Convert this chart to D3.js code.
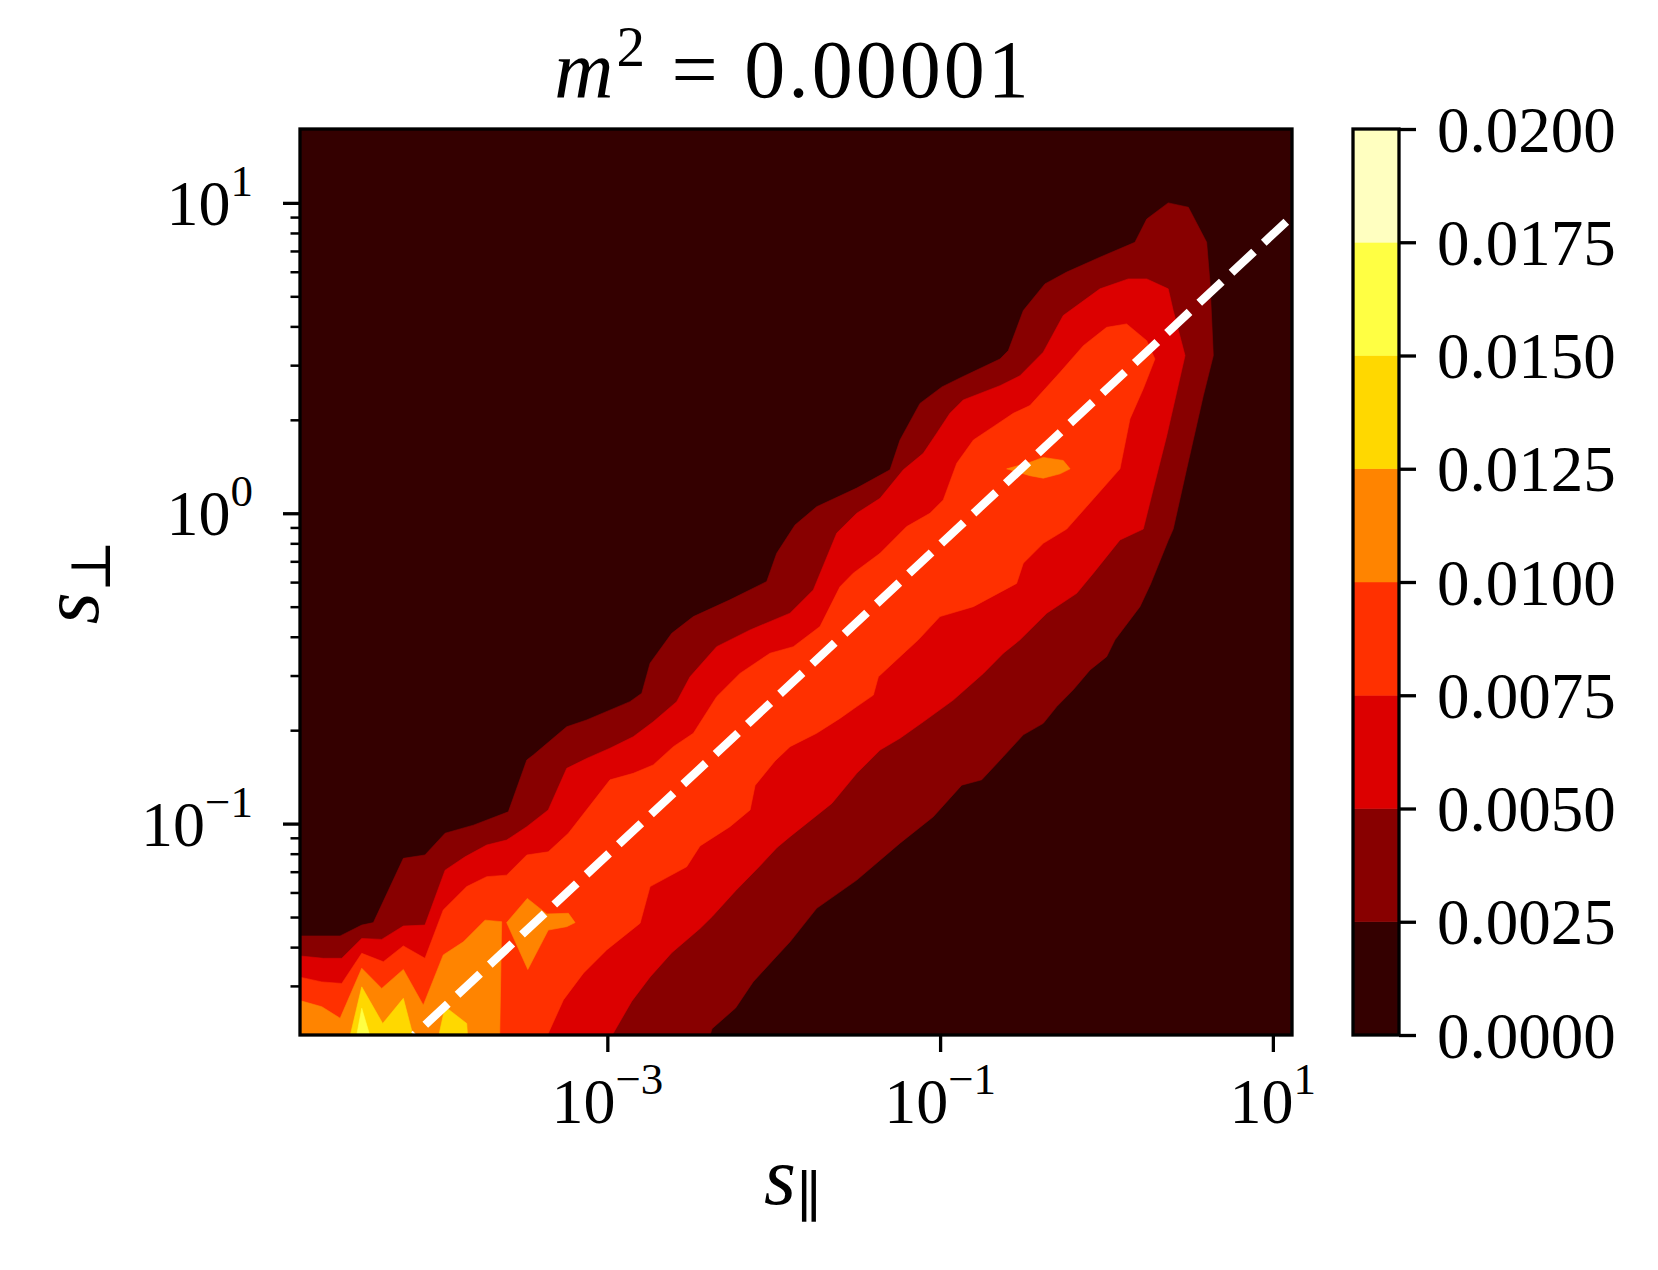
<!DOCTYPE html>
<html><head><meta charset="utf-8">
<script src="https://cdn.jsdelivr.net/npm/d3@7"></script>
<style>body{margin:0;background:#fff}</style>
</head><body>
<svg id="chart" width="1658" height="1270"></svg>
<script>
// ---------- data ----------
const levels = [0, 0.0025, 0.005, 0.0075, 0.01, 0.0125, 0.015, 0.0175, 0.02];
const levelColors = ["#340000","#880000","#dc0000","#ff3000","#ff8400","#ffd800","#ffff43","#ffffc0"];
const xDomain = [1.422e-5, 13.03];   // s_parallel range
const yDomain = [0.02084, 17.30];    // s_perp range
const xTicks = [1e-3, 1e-1, 1e1];
const xTickExp = ["\u22123", "\u22121", "1"];
const yTicks = [1e-1, 1e0, 1e1];
const yTickExp = ["\u22121", "0", "1"];
const yMinorTicks = [0.03,0.04,0.05,0.06,0.07,0.08,0.09,0.2,0.3,0.4,0.5,0.6,0.7,0.8,0.9,2,3,4,5,6,7,8,9];
const cbarTickLabels = ["0.0000","0.0025","0.0050","0.0075","0.0100","0.0125","0.0150","0.0175","0.0200"];

// filled contour regions, vertices as [log10 s_par, log10 s_perp]
const region0025 = [[-5.0,-1.362],[-4.606,-1.362],[-4.476,-1.327],[-4.406,-1.319],[-4.226,-1.112],[-4.096,-1.101],[-3.975,-1.031],[-3.805,-1.005],[-3.595,-0.962],[-3.484,-0.795],[-3.445,-0.779],[-3.244,-0.688],[-3.124,-0.666],[-2.864,-0.607],[-2.793,-0.580],[-2.743,-0.483],[-2.613,-0.387],[-2.483,-0.333],[-2.263,-0.279],[-2.042,-0.220],[-1.982,-0.129],[-1.872,-0.038],[-1.742,0.021],[-1.501,0.081],[-1.301,0.140],[-1.241,0.236],[-1.121,0.354],[-0.989,0.407],[-0.868,0.439],[-0.640,0.497],[-0.590,0.524],[-0.500,0.653],[-0.370,0.739],[-0.239,0.777],[-0.039,0.825],[0.171,0.873],[0.242,0.948],[0.371,1.000],[0.492,0.986],[0.602,0.873],[0.622,0.744],[0.642,0.508],[0.582,0.379],[0.482,0.143],[0.401,-0.051],[0.370,-0.089],[0.265,-0.228],[0.201,-0.301],[0.051,-0.408],[0.001,-0.462],[-0.099,-0.505],[-0.200,-0.569],[-0.299,-0.623],[-0.380,-0.677],[-0.500,-0.714],[-0.620,-0.784],[-0.750,-0.859],[-0.870,-0.876],[-1.041,-0.978],[-1.241,-1.063],[-1.501,-1.182],[-1.742,-1.273],[-1.902,-1.381],[-1.992,-1.433],[-2.124,-1.510],[-2.229,-1.594],[-2.371,-1.661],[-2.42,-1.75],[-5.0,-1.75]];
const region0050 = [[-5.0,-1.418],[-4.707,-1.434],[-4.596,-1.434],[-4.476,-1.370],[-4.356,-1.373],[-4.226,-1.330],[-4.096,-1.327],[-3.975,-1.150],[-3.855,-1.107],[-3.725,-1.069],[-3.605,-1.053],[-3.484,-1.010],[-3.355,-0.956],[-3.244,-0.822],[-3.124,-0.790],[-2.984,-0.757],[-2.844,-0.720],[-2.724,-0.672],[-2.583,-0.607],[-2.503,-0.527],[-2.343,-0.430],[-2.142,-0.376],[-1.902,-0.322],[-1.762,-0.247],[-1.621,-0.064],[-1.501,0.000],[-1.361,0.048],[-1.221,0.140],[-1.101,0.193],[-1.020,0.258],[-0.941,0.322],[-0.861,0.365],[-0.640,0.411],[-0.520,0.443],[-0.380,0.519],[-0.260,0.637],[-0.039,0.723],[0.131,0.755],[0.242,0.755],[0.371,0.723],[0.401,0.653],[0.472,0.508],[0.362,0.250],[0.281,0.078],[0.221,-0.051],[0.081,-0.086],[-0.079,-0.193],[-0.179,-0.258],[-0.359,-0.322],[-0.520,-0.408],[-0.620,-0.451],[-0.740,-0.516],[-0.921,-0.602],[-1.101,-0.672],[-1.241,-0.725],[-1.361,-0.763],[-1.501,-0.838],[-1.651,-0.935],[-1.902,-1.042],[-1.980,-1.077],[-2.088,-1.139],[-2.229,-1.216],[-2.371,-1.300],[-2.443,-1.338],[-2.613,-1.416],[-2.743,-1.494],[-2.853,-1.572],[-2.966,-1.677],[-3.0,-1.75],[-5.0,-1.75]];
const region0075 = [[-5.0,-1.477],[-4.716,-1.510],[-4.596,-1.515],[-4.476,-1.418],[-4.346,-1.445],[-4.226,-1.394],[-4.096,-1.434],[-3.986,-1.278],[-3.845,-1.203],[-3.725,-1.171],[-3.605,-1.166],[-3.484,-1.101],[-3.355,-1.091],[-3.234,-1.031],[-2.984,-0.859],[-2.844,-0.838],[-2.724,-0.811],[-2.603,-0.752],[-2.483,-0.709],[-2.343,-0.591],[-2.203,-0.516],[-2.022,-0.451],[-1.882,-0.430],[-1.722,-0.365],[-1.602,-0.237],[-1.522,-0.193],[-1.361,-0.129],[-1.201,-0.043],[-1.061,0.000],[-0.981,0.043],[-0.900,0.161],[-0.800,0.236],[-0.680,0.279],[-0.560,0.322],[-0.460,0.347],[-0.279,0.454],[-0.139,0.540],[0.001,0.599],[0.121,0.610],[0.242,0.556],[0.291,0.497],[0.221,0.401],[0.141,0.304],[0.081,0.143],[-0.079,0.046],[-0.239,-0.051],[-0.380,-0.097],[-0.500,-0.161],[-0.540,-0.226],[-0.800,-0.301],[-1.001,-0.333],[-1.131,-0.408],[-1.241,-0.462],[-1.371,-0.527],[-1.401,-0.586],[-1.501,-0.623],[-1.602,-0.661],[-1.742,-0.709],[-1.902,-0.752],[-1.992,-0.798],[-2.112,-0.877],[-2.142,-0.956],[-2.263,-1.010],[-2.443,-1.072],[-2.523,-1.139],[-2.743,-1.203],[-2.803,-1.321],[-3.004,-1.407],[-3.144,-1.482],[-3.264,-1.568],[-3.355,-1.676],[-3.39,-1.75],[-5.0,-1.75]];
const region0100a = [[-5.0,-1.547],[-4.716,-1.590],[-4.606,-1.627],[-4.476,-1.466],[-4.356,-1.531],[-4.226,-1.470],[-4.106,-1.585],[-3.986,-1.423],[-3.865,-1.381],[-3.735,-1.311],[-3.635,-1.316],[-3.649,-1.75],[-5.0,-1.75]];
const region0100b = [[-3.605,-1.319],[-3.481,-1.241],[-3.364,-1.291],[-3.234,-1.289],[-3.194,-1.319],[-3.244,-1.332],[-3.355,-1.343],[-3.478,-1.470]];
const region0100c = [[-0.600,0.143],[-0.460,0.164],[-0.380,0.180],[-0.260,0.170],[-0.219,0.143],[-0.279,0.127],[-0.380,0.113],[-0.460,0.121],[-0.560,0.137]];
const region0125a = [[-5.0,-1.633],[-4.74,-1.75],[-5.0,-1.75]];
const region0125b = [[-4.575,-1.75],[-4.476,-1.526],[-4.350,-1.644],[-4.226,-1.563],[-4.135,-1.75]];
const region0125c = [[-4.04,-1.75],[-3.975,-1.590],[-3.845,-1.644],[-3.832,-1.75]];
const region0150 = [[-4.53,-1.75],[-4.476,-1.595],[-4.39,-1.75]];

// dashed guide line endpoints [s_par, s_perp]
const guideLine = [[6.89e-5, 0.0208], [13.03, 9.05]];

const filledRegions = [
  {level: 0.0025, pts: region0025},
  {level: 0.005,  pts: region0050},
  {level: 0.0075, pts: region0075},
  {level: 0.01,   pts: region0100a},
  {level: 0.01,   pts: region0100b},
  {level: 0.01,   pts: region0100c},
  {level: 0.0125, pts: region0125a},
  {level: 0.0125, pts: region0125b},
  {level: 0.0125, pts: region0125c},
  {level: 0.015,  pts: region0150}
];

// ---------- layout ----------
const plot = {left: 300, right: 1292, top: 129, bottom: 1035};
const cbar = {left: 1353, right: 1399, top: 129, bottom: 1035};
const FONT = "'Liberation Serif','DejaVu Serif',serif";
const svg = d3.select("#chart");

const x = d3.scaleLog().domain(xDomain).range([plot.left, plot.right]);
const y = d3.scaleLog().domain(yDomain).range([plot.bottom, plot.top]);
const P = p => [x(Math.pow(10, p[0])), y(Math.pow(10, p[1]))];

svg.append("defs").append("clipPath").attr("id", "clip")
  .append("rect").attr("x", plot.left).attr("y", plot.top)
  .attr("width", plot.right - plot.left).attr("height", plot.bottom - plot.top);

const g = svg.append("g").attr("clip-path", "url(#clip)");
g.append("rect").attr("x", plot.left).attr("y", plot.top)
  .attr("width", plot.right - plot.left).attr("height", plot.bottom - plot.top)
  .attr("fill", levelColors[0]);

const line = d3.line();
filledRegions.forEach(r => {
  const c = levelColors[levels.indexOf(r.level)];
  g.append("path").attr("d", line(r.pts.map(P)) + "Z")
    .attr("fill", c).attr("stroke", c).attr("stroke-width", 0.6);
});

g.append("path")
  .attr("d", line(guideLine.map(d => [x(d[0]), y(d[1])])))
  .attr("fill", "none").attr("stroke", "#fff").attr("stroke-width", 8.3)
  .attr("stroke-dasharray", "30.8,13.3").attr("stroke-dashoffset", 28.7);

// ---------- axes ----------
const gx = svg.append("g").attr("transform", `translate(0,${plot.bottom})`)
  .call(d3.axisBottom(x).tickValues(xTicks).tickSize(17).tickFormat(""));
gx.select(".domain").remove();
gx.selectAll(".tick line").attr("stroke", "#000").attr("stroke-width", 3.3);

xTicks.forEach((v, i) => {
  const t = svg.append("text").attr("x", x(v)).attr("y", 1123)
    .attr("text-anchor", "middle").attr("font-family", FONT).attr("font-size", 64);
  t.append("tspan").text("10");
  t.append("tspan").attr("font-size", 45).attr("dy", -29).text(xTickExp[i]);
});

const gy = svg.append("g").attr("transform", `translate(${plot.left},0)`)
  .call(d3.axisLeft(y).tickValues(yTicks).tickSize(17).tickFormat(""));
gy.select(".domain").remove();
gy.selectAll(".tick line").attr("stroke", "#000").attr("stroke-width", 3.3);

const gym = svg.append("g").attr("transform", `translate(${plot.left},0)`)
  .call(d3.axisLeft(y).tickValues(yMinorTicks).tickSize(9.5).tickFormat(""));
gym.select(".domain").remove();
gym.selectAll(".tick line").attr("stroke", "#000").attr("stroke-width", 2.5);

yTicks.forEach((v, i) => {
  const t = svg.append("text").attr("x", 253).attr("y", y(v) + 22)
    .attr("text-anchor", "end").attr("font-family", FONT).attr("font-size", 64);
  t.append("tspan").text("10");
  t.append("tspan").attr("font-size", 45).attr("dy", -29).text(yTickExp[i]);
});

// frame
svg.append("rect").attr("x", plot.left).attr("y", plot.top)
  .attr("width", plot.right - plot.left).attr("height", plot.bottom - plot.top)
  .attr("fill", "none").attr("stroke", "#000").attr("stroke-width", 3.3);

// axis labels
const xl = svg.append("text").attr("x", 793).attr("y", 1204).attr("text-anchor", "middle")
  .attr("font-family", FONT).attr("font-size", 82);
xl.append("tspan").attr("font-style", "italic").text("s");
xl.append("tspan").attr("font-size", 56).attr("dy", 12).text("\u2225");

const yl = svg.append("text").attr("transform", "translate(98,582) rotate(-90)")
  .attr("text-anchor", "middle").attr("font-family", FONT).attr("font-size", 82);
yl.append("tspan").attr("font-style", "italic").text("s");
yl.append("tspan").attr("font-size", 56).attr("dy", 12).text("\u22A5");

// title
const tt = svg.append("text").attr("x", 793).attr("y", 97).attr("text-anchor", "middle")
  .attr("font-family", FONT).attr("font-size", 82).attr("letter-spacing", 3);
tt.append("tspan").attr("font-style", "italic").text("m");
tt.append("tspan").attr("font-size", 57).attr("dy", -31).text("2");
tt.append("tspan").attr("dy", 31).text(" = 0.00001");

// ---------- colorbar ----------
const cy = d3.scaleLinear().domain([levels[0], levels[levels.length - 1]]).range([cbar.bottom, cbar.top]);
svg.append("g").selectAll("rect").data(d3.range(levels.length - 1)).join("rect")
  .attr("x", cbar.left).attr("width", cbar.right - cbar.left)
  .attr("y", i => cy(levels[i + 1])).attr("height", i => cy(levels[i]) - cy(levels[i + 1]))
  .attr("fill", i => levelColors[i]).attr("stroke", i => levelColors[i]).attr("stroke-width", 0.5);
svg.append("rect").attr("x", cbar.left).attr("y", cbar.top)
  .attr("width", cbar.right - cbar.left).attr("height", cbar.bottom - cbar.top)
  .attr("fill", "none").attr("stroke", "#000").attr("stroke-width", 3.3);

const gc = svg.append("g").attr("transform", `translate(${cbar.right},0)`)
  .call(d3.axisRight(cy).tickValues(levels).tickSize(17).tickPadding(21)
    .tickFormat((d, i) => cbarTickLabels[i]));
gc.select(".domain").remove();
gc.selectAll(".tick line").attr("stroke", "#000").attr("stroke-width", 3.3);
gc.selectAll(".tick text").attr("font-family", FONT).attr("font-size", 65)
  .attr("fill", "#000").attr("dy", "0.34em");
</script>
</body></html>
